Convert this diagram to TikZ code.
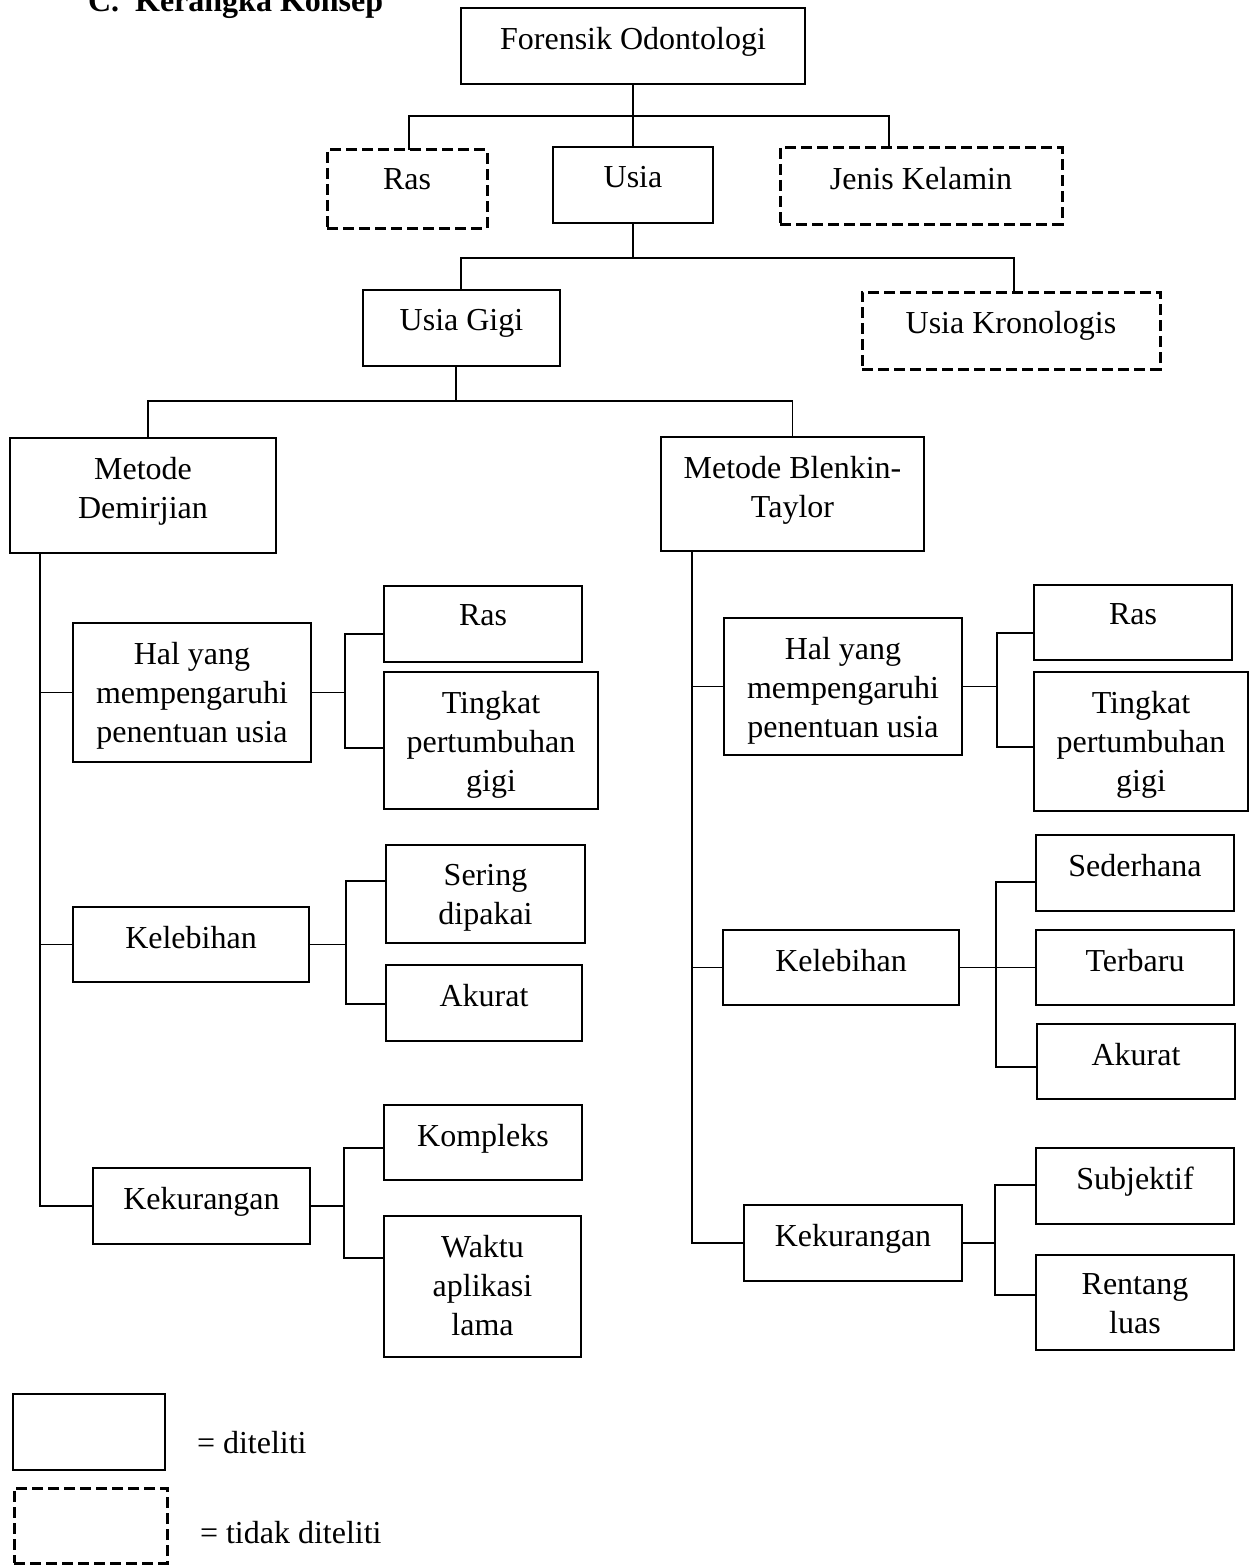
\documentclass[tikz,border=0pt]{standalone}
\usepackage{fontspec}
\setmainfont{Liberation Serif}
\tikzset{
  box/.style={draw=black, line width=2.3pt, rectangle, inner sep=0pt, outer sep=0pt},
  dbox/.style={box, line width=3pt, dash pattern=on 11pt off 5pt},
  txt/.style={font=\fontsize{32}{39}\selectfont, align=center, inner sep=0pt, outer sep=0pt, anchor=north},
  conn/.style={draw=black, line width=1.2pt}
}
\newcommand{\mybox}[7][box]{%
  \node[#1, minimum width={(#5-#3)*1pt}, minimum height={(#6-#4)*1pt}] (#2) at ({(#3+#5)/2},{(#4+#6)/2}) {};
  \node[txt] (#2t) at ({(#3+#5)/2},{#4+19}) {#7};}
\begin{document}
\begin{tikzpicture}[x=1pt,y=-1pt]
\useasboundingbox (0,0) rectangle (1252,1565);
% title
\node[txt, anchor=base west, font=\fontsize{32}{39}\selectfont\bfseries] (title) at (88,12) {C.\hspace{16pt}Kerangka Konsep};
% boxes
\mybox{F}{461}{8}{805}{84}{Forensik Odontologi}
\mybox[dbox]{Ras}{327}{150}{487}{228}{Ras}
\mybox{Usia}{553}{147}{713}{223}{Usia}
\mybox[dbox]{Jenis}{780}{148}{1062}{224}{Jenis Kelamin}
\mybox{UG}{363}{290}{560}{366}{Usia Gigi}
\mybox[dbox]{UK}{862}{292}{1160}{369}{Usia Kronologis}
\mybox{MD}{10}{438}{276}{553}{Metode\\Demirjian}
\mybox{MB}{661}{437}{924}{551}{Metode Blenkin-\\Taylor}
\mybox{HalL}{73}{623}{311}{762}{Hal yang\\mempengaruhi\\penentuan usia}
\mybox{RasL}{384}{586}{582}{662}{Ras}
\mybox{TgL}{384}{672}{598}{809}{Tingkat\\pertumbuhan\\gigi}
\mybox{KlbL}{73}{907}{309}{982}{Kelebihan}
\mybox{SerL}{386}{845}{585}{943}{Sering\\dipakai}
\mybox{AkL}{386}{965}{582}{1041}{Akurat}
\mybox{KkL}{93}{1168}{310}{1244}{Kekurangan}
\mybox{KompL}{384}{1105}{582}{1180}{Kompleks}
\mybox{WkL}{384}{1216}{581}{1357}{Waktu\\aplikasi\\lama}
\mybox{HalR}{724}{618}{962}{755}{Hal yang\\mempengaruhi\\penentuan usia}
\mybox{RasR}{1034}{585}{1232}{660}{Ras}
\mybox{TgR}{1034}{672}{1248}{811}{Tingkat\\pertumbuhan\\gigi}
\mybox{KlbR}{723}{930}{959}{1005}{Kelebihan}
\mybox{SedR}{1036}{835}{1234}{911}{Sederhana}
\mybox{TerR}{1036}{930}{1234}{1005}{Terbaru}
\mybox{AkR}{1037}{1024}{1235}{1099}{Akurat}
\mybox{KkR}{744}{1205}{962}{1281}{Kekurangan}
\mybox{SubR}{1036}{1148}{1234}{1224}{Subjektif}
\mybox{RenR}{1036}{1255}{1234}{1350}{Rentang\\luas}
% legend
\mybox{LegA}{13}{1394}{165}{1470}{}
\mybox[dbox]{LegB}{14}{1488}{167}{1563}{}
\node[txt, anchor=base west] (LegAt2) at (197,1453) {= diteliti};
\node[txt, anchor=base west] (LegBt2) at (200,1543) {= tidak diteliti};
% top connectors
\coordinate (h1) at (632,116);
\draw[conn] (F.south) -- (Usia.north);
\draw[conn] ([xshift=82pt]Ras.north west) |- (h1) -| ([xshift=109pt]Jenis.north west);
\coordinate (h2) at (633,258);
\draw[conn] (Usia.south) -- (h2);
\draw[conn] ([xshift=98pt]UG.north west) |- (h2) -| ([xshift=152pt]UK.north west);
\coordinate (h3) at (456,401);
\draw[conn] ([xshift=93pt]UG.south west) -- (h3);
\draw[conn] ([xshift=138pt]MD.north west) |- (h3) -| (MB.north);
% left trunk
\coordinate (tL) at ([xshift=30pt]MD.south west);
\draw[conn] (tL) -- (tL |- KkL.west) -- (KkL.west);
\draw[conn] (tL |- HalL.west) -- (HalL.west);
\draw[conn] (tL |- KlbL.west) -- (KlbL.west);
% right trunk
\coordinate (tR) at ([xshift=31pt]MB.south west);
\draw[conn] (tR) -- (tR |- KkR.west) -- (KkR.west);
\draw[conn] (tR |- HalR.west) -- (HalR.west);
\draw[conn] (tR |- KlbR.west) -- (KlbR.west);
% left branches
\coordinate (a1) at (345,634); \coordinate (a2) at (345,748);
\draw[conn] (HalL.east) -- (HalL.east -| a1);
\draw[conn] (RasL.west |- a1) -- (a1) -- (a2) -- (TgL.west |- a2);
\coordinate (b1) at (346,881); \coordinate (b2) at (346,1004);
\draw[conn] (KlbL.east) -- (KlbL.east -| b1);
\draw[conn] (SerL.west |- b1) -- (b1) -- (b2) -- (AkL.west |- b2);
\coordinate (c1) at (344,1148); \coordinate (c2) at (344,1258);
\draw[conn] (KkL.east) -- (KkL.east -| c1);
\draw[conn] (KompL.west |- c1) -- (c1) -- (c2) -- (WkL.west |- c2);
% right branches
\coordinate (d1) at (997,633); \coordinate (d2) at (997,747);
\draw[conn] (HalR.east) -- (HalR.east -| d1);
\draw[conn] (RasR.west |- d1) -- (d1) -- (d2) -- (TgR.west |- d2);
\coordinate (e1) at (996,882); \coordinate (e2) at (996,1067);
\draw[conn] (KlbR.east) -- (TerR.west);
\draw[conn] (SedR.west |- e1) -- (e1) -- (e2) -- (AkR.west |- e2);
\coordinate (f1) at (995,1185); \coordinate (f2) at (995,1295);
\draw[conn] (KkR.east) -- (KkR.east -| f1);
\draw[conn] (SubR.west |- f1) -- (f1) -- (f2) -- (RenR.west |- f2);
\end{tikzpicture}
\end{document}
